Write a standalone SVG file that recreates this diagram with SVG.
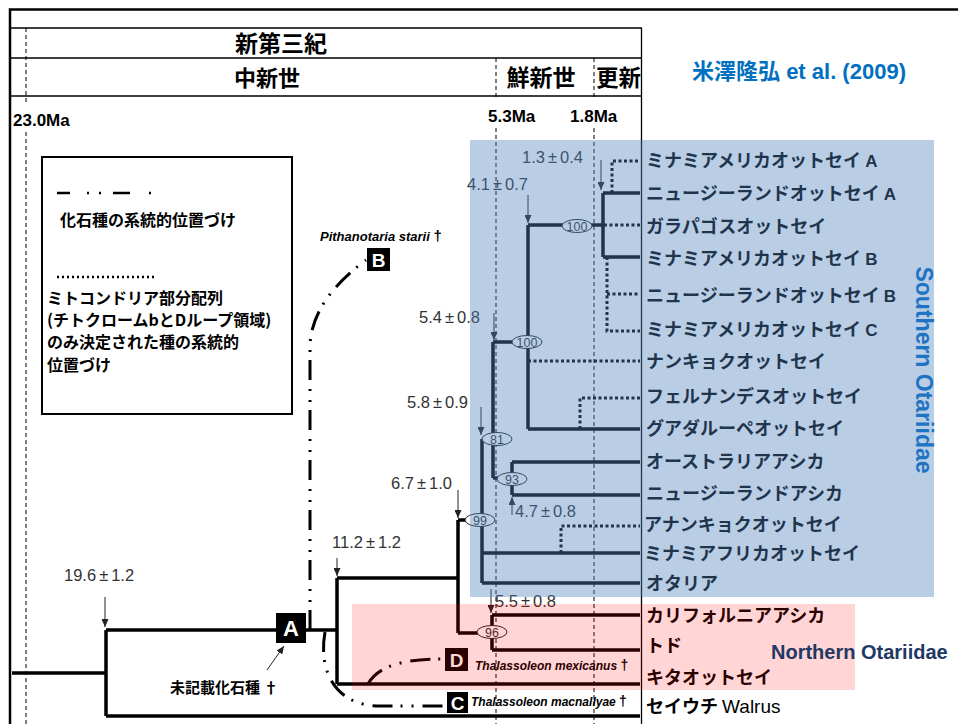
<svg xmlns="http://www.w3.org/2000/svg" width="958" height="724" viewBox="0 0 958 724">
<style>
.frame{stroke:#000;stroke-width:2.5;fill:none}
.grid{stroke:#000;stroke-width:1.3;fill:none}
.ma{stroke:#000;stroke-width:1;stroke-dasharray:4 3;fill:none}
.br{stroke:#000;stroke-width:3.5;fill:none}
.dot{stroke:#000;stroke-width:3;stroke-dasharray:3 2.5;fill:none}
.fos{stroke:#000;stroke-width:3;stroke-dasharray:20 8 2 9 2 9;fill:none}
.arr{stroke:#222;stroke-width:1;fill:none;marker-end:url(#ah)}
.num{font-family:"Liberation Sans",Arial,sans-serif;font-size:16.5px;fill:#333}
.tip{font-family:"Noto Sans CJK JP",sans-serif;font-weight:bold;font-size:18px;fill:#000}
.lat{font-family:"Liberation Sans",Arial,sans-serif;font-weight:bold;font-size:17px}
.hd{font-family:"Noto Sans CJK JP",sans-serif;font-weight:bold;fill:#000}
.ma-t{font-family:"Liberation Sans",Arial,sans-serif;font-weight:bold;font-size:17px;fill:#000}
.lg{font-family:"Noto Sans CJK JP",sans-serif;font-weight:bold;font-size:16px;fill:#000}
.bs{font-family:"Liberation Sans",Arial,sans-serif;font-size:12.5px;fill:#333;text-anchor:middle}
.bsel{fill:#fff;stroke:#222;stroke-width:1}
.box{fill:#000}
.boxt{fill:#fff;font-family:"Liberation Sans",Arial,sans-serif;font-weight:bold;text-anchor:middle}
.fl{font-family:"Liberation Sans",Arial,sans-serif;font-weight:bold;font-style:italic;fill:#000}
</style>
<defs>
<marker id="ah" markerUnits="userSpaceOnUse" markerWidth="8" markerHeight="7" refX="8" refY="3.5" orient="auto">
<path d="M0,0 L8,3.5 L0,7 z" fill="#222"/>
</marker>
</defs>
<rect width="958" height="724" fill="#fff"/>

<g id="frame">
<path class="frame" d="M10,724 V9.5 H958"/>
<path class="grid" d="M10,28 H642 M10,58 H642 M10,96 H642 M641.5,28 V724"/>
<path class="ma" d="M26,28 V104 M26,132 V724 M496,58 V100 M496,128 V724 M594,58 V100 M594,128 V724"/>
</g>

<g id="header">
<text class="hd" x="281" y="52" font-size="23" text-anchor="middle">新第三紀</text>
<text class="hd" x="267" y="86" font-size="22" text-anchor="middle">中新世</text>
<text class="hd" x="541" y="86" font-size="23" text-anchor="middle">鮮新世</text>
<text class="hd" x="596" y="86" font-size="22.5">更新</text>
<text class="ma-t" x="13" y="126">23.0Ma</text>
<text class="ma-t" x="488" y="122">5.3Ma</text>
<text class="ma-t" x="570" y="122">1.8Ma</text>
</g>

<g id="citation">
<text x="692" y="79" fill="#0070C0" font-weight="bold" font-size="22" font-family="'Noto Sans CJK JP',sans-serif">米澤隆弘<tspan font-family="'Liberation Sans',Arial,sans-serif"> et al. (2009)</tspan></text>
</g>

<g id="legend">
<rect x="42" y="157" width="250" height="257" fill="#fff" stroke="#000" stroke-width="2"/>
<path d="M57,193 H70 M87,193 H89 M99,193 H101 M113,193 H130 M149,193 H151" stroke="#000" stroke-width="2.5" fill="none"/>
<text class="lg" x="60" y="226" font-size="17">化石種の系統的位置づけ</text>
<path d="M57,277 H154" stroke="#000" stroke-width="2.5" stroke-dasharray="2 3" fill="none"/>
<text class="lg" x="47" y="304">ミトコンドリア部分配列</text>
<text class="lg" x="47" y="326">(チトクロームbとDループ領域)</text>
<text class="lg" x="47" y="348">のみ決定された種の系統的</text>
<text class="lg" x="47" y="371">位置づけ</text>
</g>

<g id="connectors">
<path class="br" stroke-width="4.5" d="M12,673 H106"/>
<path class="br" d="M106,630 V716 M106,630 H276 M306,630 H337 M337,578 V684 M337,578 H458 M458,520 V633 M458,520 H482 M458,633 H492 M492,615 V650 M492,615 H640 M492,650 H640 M337,684 H640 M106,716 H640"/>
<path class="br" d="M482,439 V583 M482,553 H640 M482,583 H640 M482,439 H493 M493,342 V478 M493,478 H512 M512,462 V495 M512,462 H640 M512,495 H640 M493,342 H528 M528,225 V429 M528,429 H640 M528,225 H603 M603,193 V257 M603,193 H640 M603,257 H640"/>
<path class="dot" d="M612,193 V161 H640 M604,225 H640 M607,257 V331 H640 M607,294 H640 M528,361 H640 M580,429 V398 H640 M561,553 V526 H640"/>
<path class="fos" d="M310,630 L310,345 Q312,300 366,260"/>
<path class="fos" d="M325,632 C318,670 335,706 380,706 L447,706"/>
<path class="fos" d="M368,684 Q382,658 445,659"/>
<path class="arr" d="M105,597 V627"/>
<path class="arr" d="M337,558 V576"/>
<path class="arr" d="M458,490 V518"/>
<path class="arr" d="M481,407 V435"/>
<path class="arr" d="M494,313 V340"/>
<path class="arr" d="M528,195 V223"/>
<path class="arr" d="M601,160 V190"/>
<path class="arr" d="M512,515 V497"/>
<path class="arr" d="M491,589 V613"/>
<path class="arr" d="M267,670 L284,646"/>
</g>

<g id="ages">
<text class="num" x="64" y="581">19.6<tspan dx="3">±</tspan><tspan dx="3">1.2</tspan></text>
<text class="num" x="332" y="548">11.2<tspan dx="3">±</tspan><tspan dx="3">1.2</tspan></text>
<text class="num" x="391" y="489">6.7<tspan dx="3">±</tspan><tspan dx="3">1.0</tspan></text>
<text class="num" x="407" y="408">5.8<tspan dx="3">±</tspan><tspan dx="3">0.9</tspan></text>
<text class="num" x="419" y="323">5.4<tspan dx="3">±</tspan><tspan dx="3">0.8</tspan></text>
<text class="num" x="467" y="190">4.1<tspan dx="3">±</tspan><tspan dx="3">0.7</tspan></text>
<text class="num" x="522" y="163">1.3<tspan dx="3">±</tspan><tspan dx="3">0.4</tspan></text>
<text class="num" x="515" y="517">4.7<tspan dx="3">±</tspan><tspan dx="3">0.8</tspan></text>
<text class="num" x="495" y="607">5.5<tspan dx="3">±</tspan><tspan dx="3">0.8</tspan></text>
</g>

<g id="bs1"><ellipse class="bsel" cx="577" cy="226" rx="15" ry="6.5"/><text class="bs" x="577" y="230.5">100</text></g>
<g id="bs2"><ellipse class="bsel" cx="527" cy="342" rx="15" ry="6.5"/><text class="bs" x="527" y="346.5">100</text></g>
<g id="bs3"><ellipse class="bsel" cx="497" cy="439" rx="15" ry="6.5"/><text class="bs" x="497" y="443.5">81</text></g>
<g id="bs4"><ellipse class="bsel" cx="512" cy="479" rx="15" ry="6.5"/><text class="bs" x="512" y="483.5">93</text></g>
<g id="bs5"><ellipse class="bsel" cx="480" cy="520" rx="15" ry="6.5"/><text class="bs" x="480" y="524.5">99</text></g>
<g id="bs6"><ellipse class="bsel" cx="492" cy="632" rx="15" ry="6.5"/><text class="bs" x="492" y="636.5">96</text></g>

<g id="fossilA"><rect class="box" x="276" y="613" width="30" height="30"/><text class="boxt" x="291" y="636" font-size="22">A</text>
<text x="170" y="693" font-family="'Noto Sans CJK JP',sans-serif" font-weight="bold" font-size="15">未記載化石種 †</text></g>
<g id="fossilB"><rect class="box" x="367" y="248" width="23" height="23"/><text class="boxt" x="378.5" y="267" font-size="19">B</text>
<text class="fl" x="320" y="241" font-size="13">Pithanotaria starii <tspan font-style="normal" font-size="15">†</tspan></text></g>
<g id="fossilC"><rect class="box" x="447" y="692" width="21" height="21"/><text class="boxt" x="457.5" y="709.5" font-size="19">C</text>
<text class="fl" x="471" y="706" font-size="12">Thalassoleon macnallyae <tspan font-style="normal" font-size="14">†</tspan></text></g>
<g id="fossilD"><rect class="box" x="445" y="648" width="23" height="23"/><text class="boxt" x="456.5" y="667" font-size="19">D</text>
<text class="fl" x="475" y="670" font-size="12">Thalassoleon mexicanus <tspan font-style="normal" font-size="14">†</tspan></text></g>

<g id="tips">
<g id="t1"><text class="tip" x="646" y="167">ミナミアメリカオットセイ <tspan class="lat">A</tspan></text></g>
<g id="t2"><text class="tip" x="646" y="200">ニュージーランドオットセイ <tspan class="lat">A</tspan></text></g>
<g id="t3"><text class="tip" x="646" y="233">ガラパゴスオットセイ</text></g>
<g id="t4"><text class="tip" x="646" y="265">ミナミアメリカオットセイ <tspan class="lat">B</tspan></text></g>
<g id="t5"><text class="tip" x="646" y="302">ニュージーランドオットセイ <tspan class="lat">B</tspan></text></g>
<g id="t6"><text class="tip" x="646" y="336">ミナミアメリカオットセイ <tspan class="lat">C</tspan></text></g>
<g id="t7"><text class="tip" x="646" y="368">ナンキョクオットセイ</text></g>
<g id="t8"><text class="tip" x="646" y="403">フェルナンデスオットセイ</text></g>
<g id="t9"><text class="tip" x="646" y="435">グアダルーペオットセイ</text></g>
<g id="t10"><text class="tip" x="646" y="468">オーストラリアアシカ</text></g>
<g id="t11"><text class="tip" x="646" y="500">ニュージーランドアシカ</text></g>
<g id="t12"><text class="tip" x="644" y="531">アナンキョクオットセイ</text></g>
<g id="t13"><text class="tip" x="644" y="560">ミナミアフリカオットセイ</text></g>
<g id="t14"><text class="tip" x="646" y="590">オタリア</text></g>
<g id="t15"><text class="tip" x="646" y="622">カリフォルニアアシカ</text></g>
<g id="t16"><text class="tip" x="646" y="652">トド</text></g>
<g id="t17"><text class="tip" x="646" y="684">キタオットセイ</text></g>
<g id="t18"><text class="tip" x="646" y="713">セイウチ <tspan font-family="'Liberation Sans',Arial,sans-serif" font-weight="normal" font-size="19">Walrus</tspan></text></g>
</g>

<g id="regions">
<rect x="470" y="140" width="464" height="457" fill="#4F81BD" fill-opacity="0.4"/>
<rect x="352" y="604" width="503" height="86" fill="#FF0000" fill-opacity="0.165"/>
</g>

<g id="groupLabels">
<text transform="translate(916,370) rotate(90)" text-anchor="middle" font-family="'Liberation Sans',Arial,sans-serif" font-weight="bold" font-size="23" fill="#1E74C2">Southern Otariidae</text>
<text x="771" y="659" font-family="'Liberation Sans',Arial,sans-serif" font-weight="bold" font-size="20" fill="#1F3864">Northern Otariidae</text>
</g>
</svg>
